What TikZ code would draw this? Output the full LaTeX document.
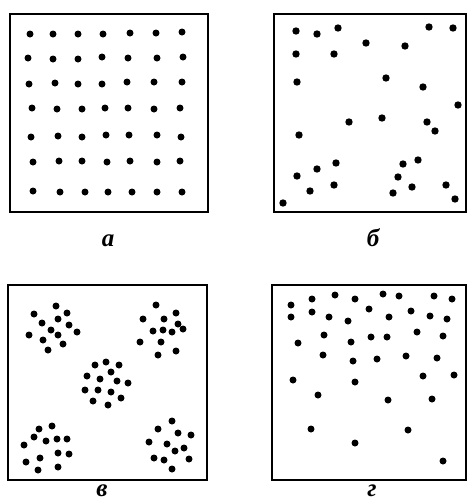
\documentclass[tikz,border=0pt]{standalone}
\usepackage{fontspec}
\newfontfamily\lblfont{Liberation Serif}
\begin{document}
\begin{tikzpicture}[x=1pt,y=-1pt,
  panel/.style={draw=black,line width=2.6pt},
  dot/.style={fill=black},
  lbl/.style={font=\lblfont\bfseries\itshape\fontsize{25}{28}\selectfont,inner sep=0pt,anchor=base}]
\useasboundingbox (0,0) rectangle (468,504);
% panels
\draw[panel] (10,14) rectangle (208,212);
\draw[panel] (274,14) rectangle (466,212);
\draw[panel] (8,285) rectangle (207,480);
\draw[panel] (272,285) rectangle (466,480);
% a: regular grid
\foreach \p in {(30,34),(53,34),(78,34),(103,34),(130,33),(156,33),(182,32),
  (28,58),(53,59),(78,59),(102,57),(128,58),(157,58),(183,57),
  (29,84),(55,83),(78,84),(102,84),(127,82),(154,82),(182,82),
  (32,108),(57,109),(82,109),(105,108),(128,108),(154,109),(180,108),
  (31,137),(58,136),(82,137),(106,135),(129,135),(157,135),(181,137),
  (33,162),(59,161),(82,161),(107,162),(130,161),(157,162),(180,161),
  (33,191),(60,192),(85,192),(108,192),(132,192),(157,192),(182,192)}
  \fill[dot] \p circle (3.5);
% b: random
\foreach \p in {(296,31),(317,34),(338,28),(366,43),(405,46),(429,27),(453,28),
  (296,54),(334,54),(297,82),(386,78),(423,87),(458,105),(349,122),(382,118),
  (427,122),(435,131),(299,135),(336,163),(317,169),(297,176),(334,185),
  (310,191),(283,203),(403,164),(418,160),(398,177),(412,187),(393,193),
  (446,185),(455,199)}
  \fill[dot] \p circle (3.7);
% v: clusters
\foreach \p in {(56,306),(34,314),(67,313),(42,323),(58,319),(69,325),(51,330),
  (77,332),(29,335),(58,335),(43,340),(63,344),(48,350),
  (156,305),(176,313),(143,319),(164,319),(178,324),(153,331),(163,330),
  (172,332),(183,329),(140,342),(161,342),(176,351),(158,355),
  (95,365),(106,362),(119,365),(111,372),(87,376),(100,379),(117,381),
  (128,383),(85,390),(98,390),(111,392),(93,401),(121,398),(108,405),
  (52,426),(39,429),(34,437),(46,441),(57,439),(67,439),(24,445),(58,453),
  (69,454),(40,458),(26,462),(58,467),(38,470),
  (172,421),(158,429),(178,433),(191,435),(149,442),(167,444),(184,448),
  (175,451),(154,458),(164,460),(189,459),(172,469)}
  \fill[dot] \p circle (3.5);
% g: density gradient
\foreach \p in {(291,305),(291,317),(312,299),(312,312),(335,295),(355,299),
  (383,294),(399,296),(434,296),(452,299),(369,309),(329,317),(348,321),
  (389,317),(411,311),(430,316),(447,319),(324,335),(298,343),(351,342),
  (371,337),(387,337),(417,332),(443,336),(323,355),(353,361),(377,359),
  (406,356),(437,358),(293,380),(355,382),(423,376),(454,375),(318,395),
  (388,400),(432,399),(311,429),(408,430),(355,443),(443,461)}
  \fill[dot] \p circle (3.5);
% labels
\node[lbl] (la) at (108,246) {а};
\node[lbl] (lb) at (373,246) {б};
\node[lbl] (lv) at (102,496) {в};
\node[lbl] (lg) at (372,496) {г};
\end{tikzpicture}
\end{document}
